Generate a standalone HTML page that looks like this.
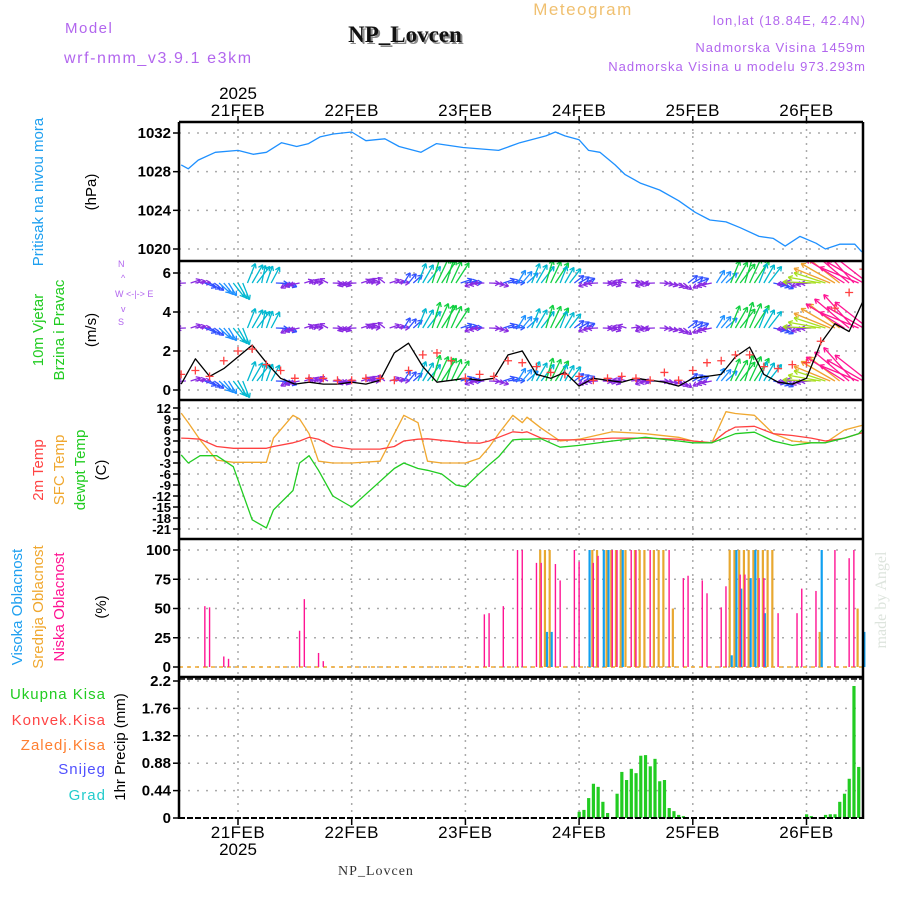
<!DOCTYPE html>
<html><head><meta charset="utf-8"><style>
html,body{margin:0;padding:0;background:#fff;}
svg{display:block;font-family:"Liberation Sans",sans-serif;}
</style></head><body>
<svg id="chart" width="900" height="900" viewBox="0 0 900 900" xmlns="http://www.w3.org/2000/svg">
<rect x="0" y="0" width="900" height="900" fill="#fff"/>
<text x="65" y="33" fill="#b266ee" font-size="15" letter-spacing="1.5">Model</text>
<text x="64" y="63" fill="#b266ee" font-size="16" letter-spacing="1.6">wrf-nmm_v3.9.1 e3km</text>
<text x="407" y="44" fill="#888" font-size="23" font-weight="bold" font-family="Liberation Serif,serif" text-anchor="middle">NP_Lovcen</text>
<text x="405" y="42" fill="#111" font-size="23" font-weight="bold" font-family="Liberation Serif,serif" text-anchor="middle">NP_Lovcen</text>
<text x="583" y="15" fill="#f0c070" font-size="17" letter-spacing="1.5" text-anchor="middle">Meteogram</text>
<text x="866" y="25" fill="#b266ee" font-size="13" letter-spacing="1" text-anchor="end">lon,lat (18.84E, 42.4N)</text>
<text x="866" y="52" fill="#b266ee" font-size="13" letter-spacing="1" text-anchor="end">Nadmorska Visina 1459m</text>
<text x="866" y="71" fill="#b266ee" font-size="13" letter-spacing="1" text-anchor="end">Nadmorska Visina u modelu 973.293m</text>
<text x="376" y="875" fill="#333" font-size="14" font-family="Liberation Serif,serif" text-anchor="middle" letter-spacing="1">NP_Lovcen</text>
<text transform="translate(886,600) rotate(-90)" fill="#dde4dd" font-size="16" font-family="Liberation Serif,serif" text-anchor="middle">made by Angel</text>

<g font-size="15">
<text transform="translate(43,192) rotate(-90)" fill="#1fa0f0" text-anchor="middle">Pritisak na nivou mora</text>
<text transform="translate(96,192) rotate(-90)" fill="#000" text-anchor="middle">(hPa)</text>
<text transform="translate(43,330) rotate(-90)" fill="#22cc22" text-anchor="middle">10m Vjetar</text>
<text transform="translate(64,330) rotate(-90)" fill="#22cc22" text-anchor="middle">Brzina i Pravac</text>
<text transform="translate(96,330) rotate(-90)" fill="#000" text-anchor="middle">(m/s)</text>
<text transform="translate(43,470) rotate(-90)" fill="#ff4444" text-anchor="middle">2m Temp</text>
<text transform="translate(64,470) rotate(-90)" fill="#f0a830" text-anchor="middle">SFC Temp</text>
<text transform="translate(85,470) rotate(-90)" fill="#22cc22" text-anchor="middle">dewpt Temp</text>
<text transform="translate(106,470) rotate(-90)" fill="#000" text-anchor="middle">(C)</text>
<text transform="translate(22,607) rotate(-90)" fill="#1fa0f0" text-anchor="middle">Visoka Oblacnost</text>
<text transform="translate(43,607) rotate(-90)" fill="#f0a830" text-anchor="middle">Srednja Oblacnost</text>
<text transform="translate(64,607) rotate(-90)" fill="#ff1493" text-anchor="middle">Niska Oblacnost</text>
<text transform="translate(106,607) rotate(-90)" fill="#000" text-anchor="middle">(%)</text>
<text transform="translate(125,747) rotate(-90)" fill="#000" text-anchor="middle">1hr Precip (mm)</text>
<text x="106" y="699" fill="#22cc22" text-anchor="end" letter-spacing="1">Ukupna  Kisa</text>
<text x="106" y="725" fill="#ff4444" text-anchor="end" letter-spacing="1">Konvek.Kisa</text>
<text x="106" y="750" fill="#ff7f30" text-anchor="end" letter-spacing="1">Zaledj.Kisa</text>
<text x="106" y="774" fill="#5050ff" text-anchor="end" letter-spacing="1">Snijeg</text>
<text x="106" y="800" fill="#22cccc" text-anchor="end" letter-spacing="1">Grad</text>
</g>
<g fill="#b266ee" font-size="9">
<text x="118" y="267">N</text><text x="115" y="297">W &lt;-|-&gt; E</text><text x="121" y="281">^</text><text x="121" y="312">v</text><text x="118" y="325">S</text>
</g>
<g id="layer"></g>
</svg>
<script>
// ---- data (hours relative to 21FEB 00UTC) ----
const dayLabels = ["21FEB","22FEB","23FEB","24FEB","25FEB","26FEB"];
const pressTicks = [1032,1028,1024,1020];
const windTicks = [6,4,2,0];
const tempTicks = [12,9,6,3,0,-3,-6,-9,-12,-15,-18,-21];
const cloudTicks = [100,75,50,25,0];
const precipTicks = [2.2,1.76,1.32,0.88,0.44,0];

const pressH = [-12,-10.5,-8.4,-4.8,0,3.2,6,9.2,12.4,14.9,17.3,20.1,24,27,31,34,38.6,41.9,47.5,55,59.5,65,67,69,72,74,76.4,79.6,81.7,85,89,93,96.5,99.6,103,106,110,113,115.5,118.6,122,124,127,130.2,131.7];
const pressV = [1028.7,1028.3,1029.2,1030.0,1030.2,1029.8,1030.0,1031.0,1030.6,1030.9,1031.6,1031.9,1032.1,1031.2,1031.4,1030.6,1030.0,1030.9,1030.5,1030.2,1031.0,1031.7,1032.1,1031.7,1031.3,1030.2,1030.0,1028.7,1027.7,1026.8,1026.1,1025.0,1023.8,1023.0,1022.8,1022.2,1021.3,1021.1,1020.3,1021.3,1020.6,1020.0,1020.5,1020.5,1019.7];

const windH = [-12,-9,-6,-3,0,3,6,9,12,15,18,21,24,27,30,33,36,39,42,45,48,51,54,57,60,63,66,69,72,75,78,81,84,87,90,93,96,99,102,105,108,111,114,117,120,123,126,129,132];
const windSpeed = [0.3,1.6,0.7,1.1,1.7,2.3,1.4,0.6,0.3,0.4,0.3,0.3,0.4,0.3,0.5,1.9,2.4,1.2,0.4,0.5,0.6,0.5,0.6,1.8,2.0,0.8,0.6,0.9,0.2,0.6,0.5,0.4,0.6,0.5,0.4,0.2,0.6,0.7,0.8,1.7,2.2,0.8,0.4,0.3,0.6,2.4,3.4,3.0,4.6];
const windGust = [0.8,1.0,0.7,1.5,2.0,2.1,1.3,1.0,0.6,0.6,0.6,0.5,0.5,0.6,0.6,0.5,1.0,1.8,1.9,1.5,0.6,0.8,0.7,1.5,1.4,1.2,0.9,0.8,0.7,0.5,0.6,0.7,0.6,0.5,0.9,0.5,1.0,1.4,1.5,1.8,1.8,1.2,1.1,1.3,1.4,2.5,4.2,5.0,6.2];
const arrowSpd = [1,1.5,2,3,4,5,4,2,1.5,1,1,1,1,1.2,1,1.5,2,5,7,6,2,1.5,1.5,2,3,5,6,4,2,1.5,1,1,1,1.5,1,1.5,2,1.5,3,6,7,5,2,1.5,1.5,9,11,13,12];
const arrowDir = [260,80,120,140,150,30,20,100,250,80,290,100,260,80,300,80,40,30,25,25,80,260,100,80,40,30,25,30,60,260,100,280,90,260,100,120,60,250,40,30,25,30,110,270,260,280,300,310,300];

const tempH = [-12,-10.5,-8,-4.5,-1,3,6,7.5,11.6,13,15,17,20,24,30,33,35,38,40,43,46,48,51,53,55,58,60,61,64,68,72,79,86,93,96,100,103,105,109,113,117,121,124,128,131,132.5];
const t2m = [3.8,3.7,3.5,1.5,1.0,1.0,1.0,1.5,2.5,3.0,4.0,3.5,1.5,0.8,0.8,1.5,3.0,3.5,3.6,3.2,2.8,2.5,2.4,3.0,4.0,5.5,5.3,5.5,3.8,3.3,3.3,3.8,3.8,3.5,3.0,2.5,5.5,6.8,7.0,5.0,4.5,3.8,3.0,3.8,5.0,5.5];
const tsfc = [10.6,8.0,3.3,-2.2,-2.8,-2.8,-2.8,3.8,10.0,9.0,5.0,-2.5,-3.0,-3.0,-2.5,5.0,10.0,8.0,-2.5,-3.0,-3.0,-3.0,-1.7,1.3,5.0,10.0,8.0,9.5,6.5,3.0,3.5,5.5,5.0,4.0,3.0,2.5,11.0,10.5,10.0,5.0,3.0,2.5,2.5,6.0,7.0,7.5];
const tdew = [-0.8,-3.0,-1.0,-1.0,-4.0,-18.5,-20.7,-15.8,-10.5,-3.0,-1.0,-5.0,-12.0,-15.0,-8.0,-4.5,-3.0,-4.5,-5.0,-6.0,-9.0,-9.5,-5.8,-3.5,-1.3,3.3,3.5,3.5,3.6,1.3,1.8,3.0,4.0,3.0,2.5,2.5,4.0,5.0,5.4,3.0,1.8,2.5,2.5,3.8,5.0,7.0];

const lowCloudH = [-7,-6,-3,-2,13,14,17,18,52,53,56,59,60,63,64,67,68,71,72,75,76,79,80,83,84,87,91,94,95,98,99,102,103,106,107,110,111,114,118,119,122,126,129,130];
const lowCloudV = [52,51,9,7,31,58,12,5,45,46,52,100,100,89,89,88,74,100,90,89,95,100,100,100,100,100,100,76,78,74,63,51,69,79,79,76,76,46,46,67,65,100,93,100];
const midCloudH = [64,65,66,75,76,78,79,80,81,82,84,85,86,88,89,90,92,104,105,106,107,108,109,110,111,112,113,123,131];
const midCloudV = [100,100,100,100,100,100,100,100,100,100,100,100,100,100,100,100,50,100,100,100,100,100,100,100,100,100,100,30,50];
const highCloudH = [65,66,74,77,78,81,104,105,106,108,109,111,123,132];
const highCloudV = [30,30,100,100,100,100,10,100,67,76,100,46,100,30];

const precipH = [72,73,74,75,76,77,78,80,81,82,83,84,85,86,87,88,89,90,91,92,93,94,120,121,124,125,126,127,128,129,130,131];
const precipV = [0.10,0.13,0.32,0.55,0.50,0.26,0.08,0.39,0.74,0.61,0.79,0.72,1.00,1.01,0.83,0.95,0.59,0.61,0.16,0.11,0.05,0.03,0.06,0.03,0.05,0.06,0.06,0.26,0.39,0.63,2.12,0.82];

// ---- geometry ----
const L = 179, R = 863;
const X = h => 238 + h * 4.7375;
const panels = {
  press: {top:122, bot:261, y:v => 133 + (1032 - v) * 9.667},
  wind:  {top:261, bot:400, y:v => 390 - v * 19.5},
  temp:  {top:400, bot:539, y:v => 452 - v * 3.667},
  cloud: {top:539, bot:677, y:v => 667 - v * 1.17},
  precip:{top:677, bot:818, y:v => 818 - v * 62.27}
};
const NS = "http://www.w3.org/2000/svg";
const layer = document.getElementById('layer');
function mk(tag, attrs, parent) {
  const e = document.createElementNS(NS, tag);
  for (const k in attrs) e.setAttribute(k, attrs[k]);
  (parent || layer).appendChild(e);
  return e;
}
function clipFor(id, p) {
  const defs = mk('defs', {});
  const cp = mk('clipPath', {id: id}, defs);
  mk('rect', {x: L, y: p.top, width: R - L, height: p.bot - p.top}, cp);
}

function grid(p, ticks, fmt, name) {
  const g = mk('g', {});
  
  
  ticks.forEach(t => {
    const y = p.y(t);
    const ln = mk('line', {x1: L, x2: R, y1: y, y2: y, stroke: '#aaa', 'stroke-width': 1.5, 'stroke-dasharray': '2,7'}, g);
    
    
    mk('line', {x1: L - 6, x2: L, y1: y, y2: y, stroke: '#000', 'stroke-width': 1.5}, g);
    const tx = mk('text', {x: L - 8, y: y + 5, 'text-anchor': 'end', 'font-size': name === 'temp' ? 13 : 15, 'font-weight': 'bold', fill: '#000'}, g);
    tx.textContent = fmt(t);
    
    
  });
  for (let d = 0; d < dayLabels.length; d++) {
    const x = X(d * 24);
    mk('line', {x1: x, x2: x, y1: p.top, y2: p.bot, stroke: '#aaa', 'stroke-width': 1.5, 'stroke-dasharray': '2,5'}, g);
  }
}
grid(panels.press, pressTicks, v => v, 'pressure');
grid(panels.wind, windTicks, v => v, 'wind');
grid(panels.temp, tempTicks, v => v, 'temp');
grid(panels.cloud, cloudTicks, v => v, 'cloud');
grid(panels.precip, precipTicks, v => v, 'precip');

dayLabels.forEach((lab, d) => {
  const x = X(d * 24);
  const t1 = mk('text', {x: x, y: 116, 'text-anchor': 'middle', 'font-size': 17, 'letter-spacing': 0.5, fill: '#000'});
  t1.textContent = lab;
  
  
  const t2 = mk('text', {x: x, y: 838, 'text-anchor': 'middle', 'font-size': 17, 'letter-spacing': 0.5, fill: '#000'});
  t2.textContent = lab;
  
  
  mk('line', {x1: x, x2: x, y1: 818, y2: 825, stroke: '#000', 'stroke-width': 1.5});
  mk('line', {x1: x, x2: x, y1: 116, y2: 122, stroke: '#000', 'stroke-width': 1.5});
});
const y1 = mk('text', {x: X(0), y: 99, 'text-anchor': 'middle', 'font-size': 17, fill: '#000'}); y1.textContent = '2025';


const y2 = mk('text', {x: X(0), y: 855, 'text-anchor': 'middle', 'font-size': 17, fill: '#000'}); y2.textContent = '2025';



function line(hs, vs, p, color, name, w) {
  const pts = hs.map((h, i) => X(h).toFixed(1) + ',' + p.y(vs[i]).toFixed(1)).join(' ');
  const pl = mk('polyline', {points: pts, fill: 'none', stroke: color, 'stroke-width': w || 1.3, 'stroke-linejoin': 'round', 'clip-path': 'url(#c-' + name.split('-')[0] + ')'});
  
  
}
clipFor('c-pressure', panels.press);
clipFor('c-wind', panels.wind);
clipFor('c-temp', panels.temp);

line(pressH, pressV, panels.press, '#1e90ff', 'pressure-line', 1.3);

function arrowColor(s) {
  if (s < 1.6) return '#8a2be2';
  if (s < 2.6) return '#3050ff';
  if (s < 4) return '#1e90ff';
  if (s < 5.5) return '#00b8d0';
  if (s < 7.5) return '#10d040';
  if (s < 10) return '#a8e020';
  if (s < 12) return '#f0a030';
  return '#ff1493';
}
const rowsY = [283, 328, 381];
const fanOffsets = [-1, 0, 1];
const wg = mk('g', {'clip-path': 'url(#c-wind)'});


windH.forEach((h, i) => {
  rowsY.forEach(ry => {
    fanOffsets.forEach(off => {
      const s = arrowSpd[i], a = (arrowDir[i] + off * 8) * Math.PI / 180;
      const len = Math.min(6 + s * 3, 46);
      const x0 = X(h + off), y0 = ry;
      const x1 = x0 + Math.sin(a) * len, yy1 = y0 - Math.cos(a) * len;
      const c = arrowColor(s);
      const ar = mk('g', {stroke: c, 'stroke-width': 1.3, fill: 'none'}, wg);
      
      
      mk('line', {x1: x0, y1: y0, x2: x1, y2: yy1}, ar);
      [2.6, -2.6].forEach(da => {
        mk('line', {x1: x1, y1: yy1, x2: x1 - Math.sin(a + da * 0.2) * 5, y2: yy1 + Math.cos(a + da * 0.2) * 5}, ar);
      });
    });
  });
});
line(windH, windSpeed, panels.wind, '#000', 'wind-speed-line', 1.3);
windH.forEach((h, i) => {
  const x = X(h), y = panels.wind.y(windGust[i]);
  const g = mk('path', {d: `M${x-4},${y}H${x+4}M${x},${y-4}V${y+4}`, stroke: '#ff4040', 'stroke-width': 1.3, 'clip-path': 'url(#c-wind)'});
  
  
});

line(tempH, tsfc, panels.temp, '#f0a830', 'temp-sfc-line', 1.3);
line(tempH, t2m, panels.temp, '#ff4040', 'temp-2m-line', 1.3);
line(tempH, tdew, panels.temp, '#22cc22', 'temp-dewpoint-line', 1.3);

const cp = panels.cloud;
const cb = mk('line', {x1: L, x2: R, y1: cp.y(0), y2: cp.y(0), stroke: '#f0a830', 'stroke-width': 1.5, 'stroke-dasharray': '4,4'});


function bars(hs, vs, color, w, name, off) {
  hs.forEach((h, i) => {
    const x = X(h) + off;
    const b = mk('line', {x1: x, x2: x, y1: cp.y(0), y2: cp.y(vs[i]), stroke: color, 'stroke-width': w});
    
    
  });
}
bars(midCloudH, midCloudV, '#e8a830', 2.2, 'mid-cloud-bar', -1);
bars(highCloudH, highCloudV, '#10a0f0', 2.2, 'high-cloud-bar', 1);
bars(lowCloudH, lowCloudV, '#ff1493', 1.4, 'low-cloud-bar', 0);

const pp = panels.precip;
precipH.forEach((h, i) => {
  const x = X(h);
  const r = mk('rect', {x: x - 1.5, y: pp.y(precipV[i]), width: 3.2, height: pp.y(0) - pp.y(precipV[i]), fill: '#22cc22'});
  
  
});
mk('line', {x1: L, x2: R, y1: 818, y2: 818, stroke: '#000', 'stroke-width': 2, 'stroke-dasharray': '6,2'});
mk('line', {x1: L, x2: R, y1: 679, y2: 679, stroke: '#000', 'stroke-width': 1.5, 'stroke-dasharray': '6,2'});

[122, 261, 400, 539, 677].forEach(y => mk('line', {x1: L, x2: R, y1: y, y2: y, stroke: '#000', 'stroke-width': 2.5}));
mk('line', {x1: L, x2: L, y1: 122, y2: 819, stroke: '#000', 'stroke-width': 2.5});
mk('line', {x1: R, x2: R, y1: 122, y2: 819, stroke: '#000', 'stroke-width': 2.5});
</script>
</body></html>
